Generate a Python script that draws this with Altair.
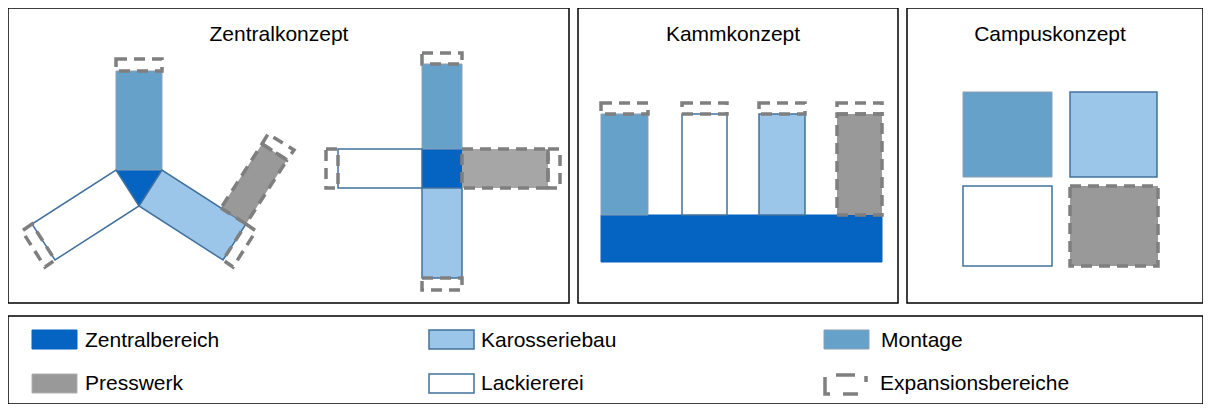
import altair as alt
import pandas as pd

# ---------------- data (reference pixel coordinates) ----------------
# Zentralbereich (dark blue)
zentral_shapes = [
    [[116, 170], [162, 170], [139, 206]],                      # Y: triangle
    [[422, 149], [462, 149], [462, 188], [422, 188]],          # cross centre
    [[601, 215], [882, 215], [882, 262], [601, 262]],          # comb base
]
# Montage (steel blue)
montage_shapes = [
    [[116, 71], [162, 71], [162, 170], [116, 170]],
    [[422, 64], [462, 64], [462, 149], [422, 149]],
    [[601, 114], [648, 114], [648, 215], [601, 215]],
    [[963, 92], [1052, 92], [1052, 177], [963, 177]],
]
# Karosseriebau (light blue, blue border)
karosserie_shapes = [
    [[162, 170], [139, 206], [223, 260], [246, 224]],
    [[422, 188], [462, 188], [462, 278], [422, 278]],
    [[759, 114], [805, 114], [805, 215], [759, 215]],
    [[1070, 92], [1157, 92], [1157, 177], [1070, 177]],
]
# Lackiererei (white, blue border)
lack_shapes = [
    [[116, 170], [139, 206], [55, 260], [32, 224]],
    [[338, 149], [422, 149], [422, 188], [338, 188]],
    [[682, 114], [727, 114], [727, 215], [682, 215]],
    [[963, 186], [1052, 186], [1052, 266], [963, 266]],
]
# Presswerk (grey, dashed border)
press_shapes = [
    [[221, 208], [246, 224], [287, 160], [262, 144]],
    [[837, 114], [882, 114], [882, 215], [837, 215]],
    [[1070, 186], [1158, 186], [1158, 266], [1070, 266]],
]
press_light_shapes = [
    [[462, 149], [548, 149], [548, 188], [462, 188]],
]
# Expansionsbereiche (dashed outlines)
expansion_shapes = [
    [[116, 59], [162, 59], [162, 71], [116, 71]],
    [[246, 224], [256, 231], [233, 267], [223, 260]],
    [[32, 224], [22, 231], [45, 267], [55, 260]],
    [[262, 144], [268, 134], [294, 150], [287, 160]],
    [[422, 53], [462, 53], [462, 64], [422, 64]],
    [[422, 278], [462, 278], [462, 290], [422, 290]],
    [[326, 149], [338, 149], [338, 188], [326, 188]],
    [[548, 149], [560, 149], [560, 188], [548, 188]],
    [[601, 103], [648, 103], [648, 114], [601, 114]],
    [[682, 103], [727, 103], [727, 114], [682, 114]],
    [[759, 103], [805, 103], [805, 114], [759, 114]],
    [[837, 103], [882, 103], [882, 114], [837, 114]],
]
# panel frames
frame_shapes = [
    [[8, 8], [569, 8], [569, 303], [8, 303]],
    [[578, 8], [898, 8], [898, 303], [578, 303]],
    [[907, 8], [1203, 8], [1203, 303], [907, 303]],
    [[8, 316], [1203, 316], [1203, 404], [8, 404]],
]
titles = ["Zentralkonzept", "Kammkonzept", "Campuskonzept"]
title_x = [279, 733, 1050]
title_y = [41, 41, 41]

legend_labels = ["Zentralbereich", "Karosseriebau", "Montage",
                 "Presswerk", "Lackiererei", "Expansionsbereiche"]
legend_label_x = [85, 481, 881, 85, 481, 880]
legend_label_y = [347, 347, 347, 390, 390, 390]
legend_swatch_x = [32, 429, 824, 32, 429, 824]
legend_swatch_y = [330, 330, 330, 374, 374, 374]
legend_swatch_w = 45
legend_swatch_h = 19
legend_expansion_icon = [[825, 375], [866, 375], [866, 394], [825, 394]]

# ---------------- build ----------------
PROJ = dict(type="identity", scale=1, translate=[-8, -8])


def feat(poly):
    ring = [list(p) for p in poly] + [list(poly[0])]
    return {"type": "Feature", "properties": {},
            "geometry": {"type": "Polygon", "coordinates": [ring]}}


def swatch(i):
    x, y = legend_swatch_x[i], legend_swatch_y[i]
    return [[x, y], [x + legend_swatch_w, y], [x + legend_swatch_w, y + legend_swatch_h],
            [x, y + legend_swatch_h]]


def shapes(polys, **style):
    return alt.Chart(alt.Data(values=[feat(p) for p in polys])).mark_geoshape(
        **style).project(**PROJ)


DARK = "#0563C1"
MONT = "#66A1C9"
KARO = "#9CC6E9"
BORDER = "#41719C"
GREY = "#999999"
GREY_LIGHT = "#A6A6A6"
DASH = "#7F7F7F"

layers = [
    shapes(zentral_shapes + [swatch(0)], fill=DARK, stroke=DARK, strokeWidth=1),
    shapes(montage_shapes + [swatch(2)], fill=MONT, stroke="#8A9FB5", strokeWidth=1),
    shapes(karosserie_shapes + [swatch(1)], fill=KARO, stroke=BORDER, strokeWidth=1.5),
    shapes(lack_shapes + [swatch(4)], fill="white", stroke=BORDER, strokeWidth=1.5),
    shapes(press_shapes, fill=GREY, stroke=DASH, strokeWidth=3.5, strokeDash=[11, 7]),
    shapes(press_light_shapes, fill=GREY_LIGHT, stroke=DASH, strokeWidth=3.5,
           strokeDash=[11, 7]),
    shapes([swatch(3)], fill=GREY, stroke="#B0B0B0", strokeWidth=1),
    shapes(expansion_shapes, fill="white", fillOpacity=0, stroke=DASH, strokeWidth=3.5,
           strokeDash=[11, 7]),
    shapes([legend_expansion_icon], fill="white", fillOpacity=0, stroke=DASH,
           strokeWidth=3.5, strokeDash=[0, 11, 19, 12, 6, 20, 15, 13, 22, 2]),
    shapes(frame_shapes, fill="white", fillOpacity=0, stroke="black", strokeWidth=1.5),
]

title_df = pd.DataFrame({"label": titles, "x": title_x, "y": title_y})
layers.append(
    alt.Chart(title_df).mark_text(font="Liberation Sans", fontSize=21, align="center",
                                  baseline="alphabetic", color="black")
    .encode(longitude="x:Q", latitude="y:Q", text="label:N").project(**PROJ)
)
leg_df = pd.DataFrame({"label": legend_labels, "x": legend_label_x, "y": legend_label_y})
layers.append(
    alt.Chart(leg_df).mark_text(font="Liberation Sans", fontSize=21, align="left",
                                baseline="alphabetic", color="black")
    .encode(longitude="x:Q", latitude="y:Q", text="label:N").project(**PROJ)
)

chart = alt.layer(*layers).properties(
    width=1195, height=396, padding=0, autosize="none"
).configure_view(strokeWidth=0)

chart.save("out.html", embed_options={"renderer": "svg", "actions": False})
